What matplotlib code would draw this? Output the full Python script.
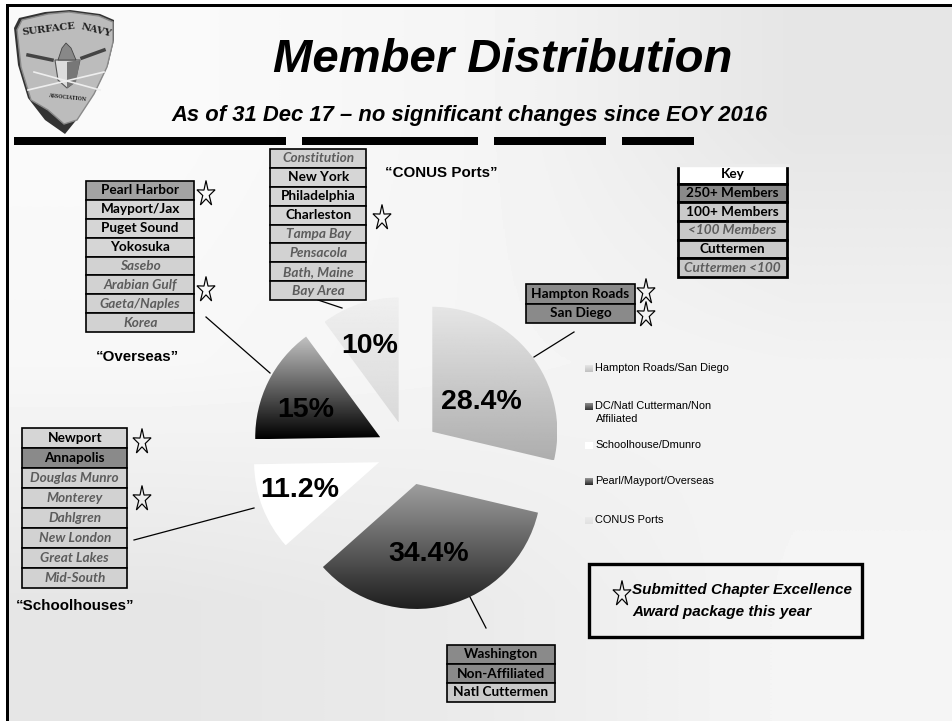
import numpy as np
import matplotlib
matplotlib.use("Agg")
import matplotlib.pyplot as plt
from matplotlib.patches import Polygon, Rectangle

W, H = 953, 721

# pie data
pie_labels = ["Hampton Roads/San Diego", "DC/Natl Cutterman/Non\nAffiliated", "Schoolhouse/Dmunro",
              "Pearl/Mayport/Overseas", "CONUS Ports"]
pie_values = [28.4, 34.4, 11.2, 15, 10]
pie_texts = ["28.4%", "34.4%", "11.2%", "15%", "10%"]

# chapter tables: name, style (d = 250+, b = 100+, i = <100)
overseas = ["Pearl Harbor", "Mayport/Jax", "Puget Sound", "Yokosuka", "Sasebo", "Arabian Gulf", "Gaeta/Naples", "Korea"]
overseas_style = ["m", "b", "b", "b", "i", "i", "i", "i"]
conus = ["Constitution", "New York", "Philadelphia", "Charleston", "Tampa Bay", "Pensacola", "Bath, Maine", "Bay Area"]
conus_style = ["i", "b", "b", "b", "i", "i", "i", "i"]
schools = ["Newport", "Annapolis", "Douglas Munro", "Monterey", "Dahlgren", "New London", "Great Lakes", "Mid-South"]
schools_style = ["b", "d", "i", "i", "i", "i", "i", "i"]
big_two = ["Hampton Roads", "San Diego"]
big_two_style = ["d", "d"]
dc = ["Washington", "Non-Affiliated", "Natl Cuttermen"]
dc_style = ["d", "d", "c"]
key = ["Key", "250+ Members", "100+ Members", "<100 Members", "Cuttermen", "Cuttermen <100"]
key_style = ["w", "d", "c", "c2", "c", "c2"]

SANS = ["Liberation Sans", "DejaVu Sans"]
TABLE = ["Lato", "DejaVu Sans"]


def yy(y):
    # picture was measured from the top
    return H - y


def gradient(top, bottom, extent, clip=None, z=2):
    g = np.linspace(top, bottom, 128).reshape(-1, 1)
    im = ax.imshow(g, cmap="gray", vmin=0, vmax=1, extent=extent, aspect="auto", zorder=z)
    if clip is not None:
        im.set_clip_path(clip)
    return im


def table(names, styles, x0, x1, y0, y1, size=9.8, lw=1.2):
    fills = {"d": "#8a8a8a", "m": "#a2a2a2", "b": "#d6d6d6", "i": "#d2d2d2", "c": "#cacaca", "c2": "#c8c8c8", "w": "#ffffff"}
    h = (y1 - y0) / len(names)
    for i, (n, s) in enumerate(zip(names, styles)):
        top = y0 + i * h
        italic = s in ("i", "c2")
        ax.add_patch(Rectangle((x0, yy(top + h)), x1 - x0, h, fc=fills[s], ec="black", lw=lw, zorder=4))
        ax.text((x0 + x1) / 2, yy(top + h / 2), n, ha="center", va="center", fontsize=size, family=TABLE,
                fontweight="bold", fontstyle="italic" if italic else "normal",
                color="#5c5c5c" if italic else "black", zorder=5)


def star(cx, cy, w=17, h=26):
    pts = []
    for k in range(10):
        a = np.pi / 2 + k * np.pi / 5
        r = 1 if k % 2 == 0 else 0.36
        pts.append((cx + r * w * 0.56 * np.cos(a), yy(cy) + r * h * 0.52 * np.sin(a) - 1))
    ax.add_patch(Polygon(pts, closed=True, fc="none", ec="black", lw=0.85, zorder=6))


fig = plt.figure(figsize=(W / 100, H / 100), dpi=100)
ax = fig.add_axes([0, 0, 1, 1])

# slide background
bg = np.array([[0.98, 0.96, 0.90],
               [0.97, 0.96, 0.95],
               [0.90, 0.92, 0.96]])
ax.imshow(bg, cmap="gray", vmin=0, vmax=1, extent=(8, W, 0, yy(6)), aspect="auto", interpolation="bilinear", zorder=0)

# frame
ax.add_patch(Rectangle((6, 0), 3, yy(5), fc="black", ec="none", zorder=8))
ax.add_patch(Rectangle((6, yy(7)), W - 6, 3, fc="black", ec="none", zorder=8))

# logo
shield = [(14, 28), (19, 18), (45, 12), (70, 10), (100, 14), (114, 20), (114, 40), (108, 65), (95, 92),
          (78, 118), (65, 134), (45, 120), (28, 98), (18, 65)]
ax.add_patch(Polygon([(x, yy(y)) for x, y in shield], fc="#333333", ec="none", zorder=2))
inner = [(x + 3 if x < 65 else x - 1, yy(y + 2 if y < 120 else y - 10)) for x, y in shield]
ax.add_patch(Polygon(inner, fc="#bcbcbc", ec="#8a8a8a", lw=1, zorder=3))
ax.text(49, yy(29), "SURFACE", family="DejaVu Serif", fontsize=7.2, fontweight="bold", rotation=7, ha="center", va="center", zorder=4, color="#222222")
ax.text(96, yy(30), "NAVY", family="DejaVu Serif", fontsize=7.2, fontweight="bold", rotation=-14, ha="center", va="center", zorder=4, color="#222222")
ax.text(67, yy(98), "ASSOCIATION", family="DejaVu Serif", fontsize=3.4, fontweight="bold", rotation=-6, ha="center", va="center", zorder=4, color="#222222")
ax.add_patch(Polygon([(55, yy(60)), (80, yy(60)), (75, yy(82)), (67, yy(88)), (58, yy(80))], fc="#dddddd", ec="#555555", lw=0.8, zorder=4))
ax.add_patch(Polygon([(67, yy(62)), (80, yy(60)), (76, yy(82)), (67, yy(88))], fc="#777777", ec="none", zorder=4))
ax.add_patch(Polygon([(58, yy(60)), (62, yy(48)), (66, yy(43)), (71, yy(48)), (76, yy(60))], fc="#888888", ec="#444444", lw=0.6, zorder=4))
ax.plot([28, 52], [yy(55), yy(60)], color="#444444", lw=2.5, zorder=4)
ax.plot([104, 82], [yy(50), yy(58)], color="#444444", lw=2.5, zorder=4)
ax.plot([28, 104], [yy(90), yy(72)], color="#eeeeee", lw=1.2, zorder=4)
ax.plot([100, 34], [yy(90), yy(72)], color="#eeeeee", lw=1.2, zorder=4)

# titles
ax.text(503, yy(72), "Member Distribution", ha="center", va="baseline", fontsize=34, family=SANS,
        fontweight="bold", fontstyle="italic")
ax.text(470, yy(121), "As of 31 Dec 17 \u2013 no significant changes since EOY 2016", ha="center", va="baseline",
        fontsize=15.8, family=SANS, fontweight="bold", fontstyle="italic")
for x0, x1 in [(14, 286), (302, 478), (494, 606), (622, 694)]:
    ax.add_patch(Rectangle((x0, yy(145)), x1 - x0, 8, fc="black", ec="none", zorder=3))

# pie
wedges, _ = ax.pie(pie_values, explode=[31, 34, 31, 31, 30], startangle=90, counterclock=False, radius=125,
                   center=(408, yy(451)), frame=True)
pie_shades = [(0.90, 0.68), (0.62, 0.12), (1.0, 1.0), (0.76, 0.0), (0.94, 0.85)]
for w, (top, bottom) in zip(wedges, pie_shades):
    w.set_facecolor("none")
    w.set_edgecolor("none")
    x0, y0, x1, y1 = w.get_path().get_extents(w.get_patch_transform()).extents
    gradient(top, bottom, (x0, x1, y0, y1), clip=w)

pie_text_pos = [(481, 409), (429, 561), (300, 497), (306, 417), (370, 353)]
for t, (x, y) in zip(pie_texts, pie_text_pos):
    ax.text(x, yy(y), t, ha="center", va="baseline", fontsize=20.5, family=SANS, fontweight="bold", zorder=7)

# leaders
leaders = [((206, 317), (270, 373)), ((318, 300), (342, 308)), ((534, 357), (574, 332)),
           ((134, 540), (254, 508)), ((470, 597), (486, 628))]
for (x0, y0), (x1, y1) in leaders:
    ax.plot([x0, x1], [yy(y0), yy(y1)], color="black", lw=0.9, zorder=3)

# tables
table(overseas, overseas_style, 86.5, 194, 181, 332)
table(conus, conus_style, 270.5, 366, 149, 300)
table(schools, schools_style, 22.5, 127, 428, 588)
table(big_two, big_two_style, 526, 635, 284, 323)
table(dc, dc_style, 447, 555, 645, 702)
table(key, key_style, 678, 787, 165, 277, lw=2)
ax.plot([677, 788], [yy(165), yy(165)], color="#ececec", lw=2.4, zorder=6)

# group names
for txt, x, y in [("\u201cOverseas\u201d", 137, 357), ("\u201cCONUS Ports\u201d", 441, 173), ("\u201cSchoolhouses\u201d", 75, 606)]:
    ax.text(x, yy(y), txt, ha="center", va="center", fontsize=10.9, family=SANS, fontweight="bold")

# stars
for cx, cy in [(206, 193), (206, 289), (382, 217), (646, 291), (646, 314), (142, 441), (142, 498), (622, 593)]:
    star(cx, cy)

# legend
leg_y = [369, 407, 446, 482, 521]
leg_shades = [(0.90, 0.75), (0.55, 0.2), (1.0, 1.0), (0.6, 0.15), (0.92, 0.88)]
for lab, y, (top, bottom) in zip(pie_labels, leg_y, leg_shades):
    gradient(top, bottom, (585, 593, yy(y + 3.5), yy(y - 3.5)))
    ax.text(595.5, yy(y - 6), lab, ha="left", va="top", fontsize=7.9, family=SANS, linespacing=1.35)

# award note
ax.add_patch(Rectangle((589.5, yy(637)), 273, 73, fc="none", ec="black", lw=2.4, zorder=5))
ax.text(632, yy(590), "Submitted Chapter Excellence", ha="left", va="center", fontsize=11, family=SANS, fontweight="bold", fontstyle="italic")
ax.text(632, yy(612), "Award package this year", ha="left", va="center", fontsize=11, family=SANS, fontweight="bold", fontstyle="italic")

ax.set_xlim(0, W)
ax.set_ylim(0, H)
ax.set_aspect("auto")
ax.axis("off")
fig.savefig("out.png", dpi=100, facecolor="white")
